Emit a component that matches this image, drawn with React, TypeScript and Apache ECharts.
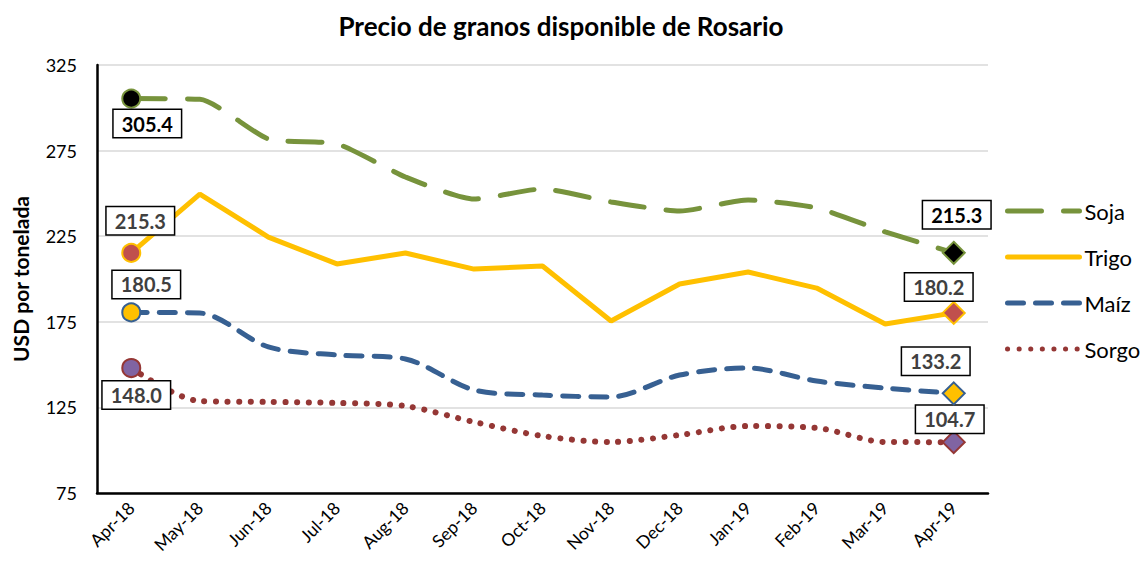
import React, { useEffect, useRef } from "react";
import * as echarts from "echarts";

const categories = ["Apr-18", "May-18", "Jun-18", "Jul-18", "Aug-18", "Sep-18", "Oct-18", "Nov-18", "Dec-18", "Jan-19", "Feb-19", "Mar-19", "Apr-19"];
const soja = [305.4, 305.0, 281.8, 278.9, 259.6, 246.7, 252.6, 245.0, 239.7, 246.1, 241.5, 227.5, 215.3];
const trigo = [215.3, 249.6, 224.5, 208.8, 215.2, 205.8, 207.6, 175.5, 197.1, 204.1, 194.7, 173.7, 180.2];
const maiz = [180.5, 180.1, 160.3, 155.6, 153.3, 135.2, 132.2, 131.1, 143.9, 148.0, 140.4, 136.3, 133.2];
const sorgo = [148.0, 128.7, 128.2, 127.6, 125.8, 116.5, 108.3, 104.8, 108.9, 114.1, 113.0, 104.8, 104.7];
const yTicks = [75, 125, 175, 225, 275, 325];

const FONT = "Lato, 'Open Sans', sans-serif";

function endLabel(color: string, offset: number[]) {
  return {
    show: true,
    position: "inside",
    offset,
    formatter: (p: any) => Number(p.value).toFixed(1),
    color,
    fontFamily: FONT,
    fontWeight: "bold",
    fontSize: 20,
    backgroundColor: "#ffffff",
    borderColor: "#000000",
    borderWidth: 1.5,
    padding: [4, 8, 3, 8],
  };
}

function buildData(
  values: number[],
  fill: string,
  border: string,
  labelColor: string,
  firstOffset: number[],
  lastOffset: number[]
) {
  const last = values.length - 1;
  return values.map((v, i) => {
    if (i === 0) {
      return {
        value: v,
        symbol: "circle",
        symbolSize: 18,
        itemStyle: { color: fill, borderColor: border, borderWidth: 2 },
        label: endLabel(labelColor, firstOffset),
      };
    }
    if (i === last) {
      return {
        value: v,
        symbol: "diamond",
        symbolSize: [22, 22],
        itemStyle: { color: fill, borderColor: border, borderWidth: 2 },
        label: endLabel(labelColor, lastOffset),
      };
    }
    return { value: v, symbol: "none" };
  });
}

export default function App() {
  const ref = useRef<HTMLDivElement>(null);

  useEffect(() => {
    document.body.style.margin = "0";
    if (!ref.current) return;
    const chart = echarts.init(ref.current, undefined, { renderer: "svg" });
    const option: any = {
      animation: false,
      backgroundColor: "#ffffff",
      title: {
        text: "Precio de granos disponible de Rosario",
        left: 556,
        textAlign: "center",
        top: 8,
        textStyle: { fontFamily: FONT, fontWeight: "bold", fontSize: 26, color: "#000000" },
      },
      legend: {
        orient: "vertical",
        left: 1000,
        top: 195,
        itemWidth: 72,
        itemHeight: 20,
        itemGap: 24,
        itemStyle: { opacity: 0 },
        lineStyle: { width: 5, cap: "round" },
        textStyle: { fontFamily: FONT, fontSize: 22, color: "#000000" },
        data: ["Soja", "Trigo", "Maíz", "Sorgo"],
      },
      grid: { left: 97, right: 154, top: 65, bottom: 74, containLabel: false },
      xAxis: {
        type: "category",
        data: categories,
        boundaryGap: true,
        axisLine: { show: true, lineStyle: { color: "#000000", width: 2.5 } },
        axisTick: { show: false },
        axisLabel: {
          rotate: 45,
          fontFamily: FONT,
          fontSize: 17.5,
          color: "#000000",
          margin: 12,
          interval: 0,
        },
      },
      yAxis: {
        type: "value",
        min: 75,
        max: 325,
        interval: 50,
        name: "USD por tonelada",
        nameLocation: "middle",
        nameGap: 66,
        nameTextStyle: { fontFamily: FONT, fontWeight: "bold", fontSize: 21, color: "#000000" },
        axisLine: { show: true, lineStyle: { color: "#000000", width: 2.5 } },
        axisTick: { show: false },
        axisLabel: {
          fontFamily: FONT,
          fontSize: 18,
          color: "#000000",
          margin: 20,
          formatter: (v: number) => (yTicks.includes(v) ? String(v) : ""),
        },
        splitLine: { show: true, lineStyle: { color: "#d9d9d9", width: 1.5 } },
      },
      series: [
        {
          name: "Soja",
          type: "line",
          symbol: "none",
          smooth: 0.2,
          color: "#77933c",
          lineStyle: { color: "#77933c", width: 5, type: [34, 22], cap: "round" },
          data: buildData(soja, "#000000", "#77933c", "#000000", [16, 25], [3, -38]),
          z: 4,
        },
        {
          name: "Trigo",
          type: "line",
          symbol: "none",
          smooth: false,
          color: "#ffc000",
          lineStyle: { color: "#ffc000", width: 5 },
          data: buildData(trigo, "#c0504d", "#ffc000", "#404040", [9, -32], [-15, -26]),
          z: 3,
        },
        {
          name: "Maíz",
          type: "line",
          symbol: "none",
          smooth: 0.3,
          color: "#376092",
          lineStyle: { color: "#376092", width: 5, type: [16, 12], cap: "round" },
          data: buildData(maiz, "#ffc000", "#376092", "#404040", [15, -28], [-18, -32]),
          z: 2,
        },
        {
          name: "Sorgo",
          type: "line",
          symbol: "none",
          smooth: 0.3,
          color: "#953735",
          lineStyle: { color: "#953735", width: 6, type: [0.1, 11.5], cap: "round" },
          data: buildData(sorgo, "#8064a2", "#953735", "#404040", [5, 27], [-4, -23]),
          z: 1,
        },
      ],
    };
    chart.setOption(option);
    return () => chart.dispose();
  }, []);

  return <div ref={ref} style={{ width: 1142, height: 567 }} />;
}
